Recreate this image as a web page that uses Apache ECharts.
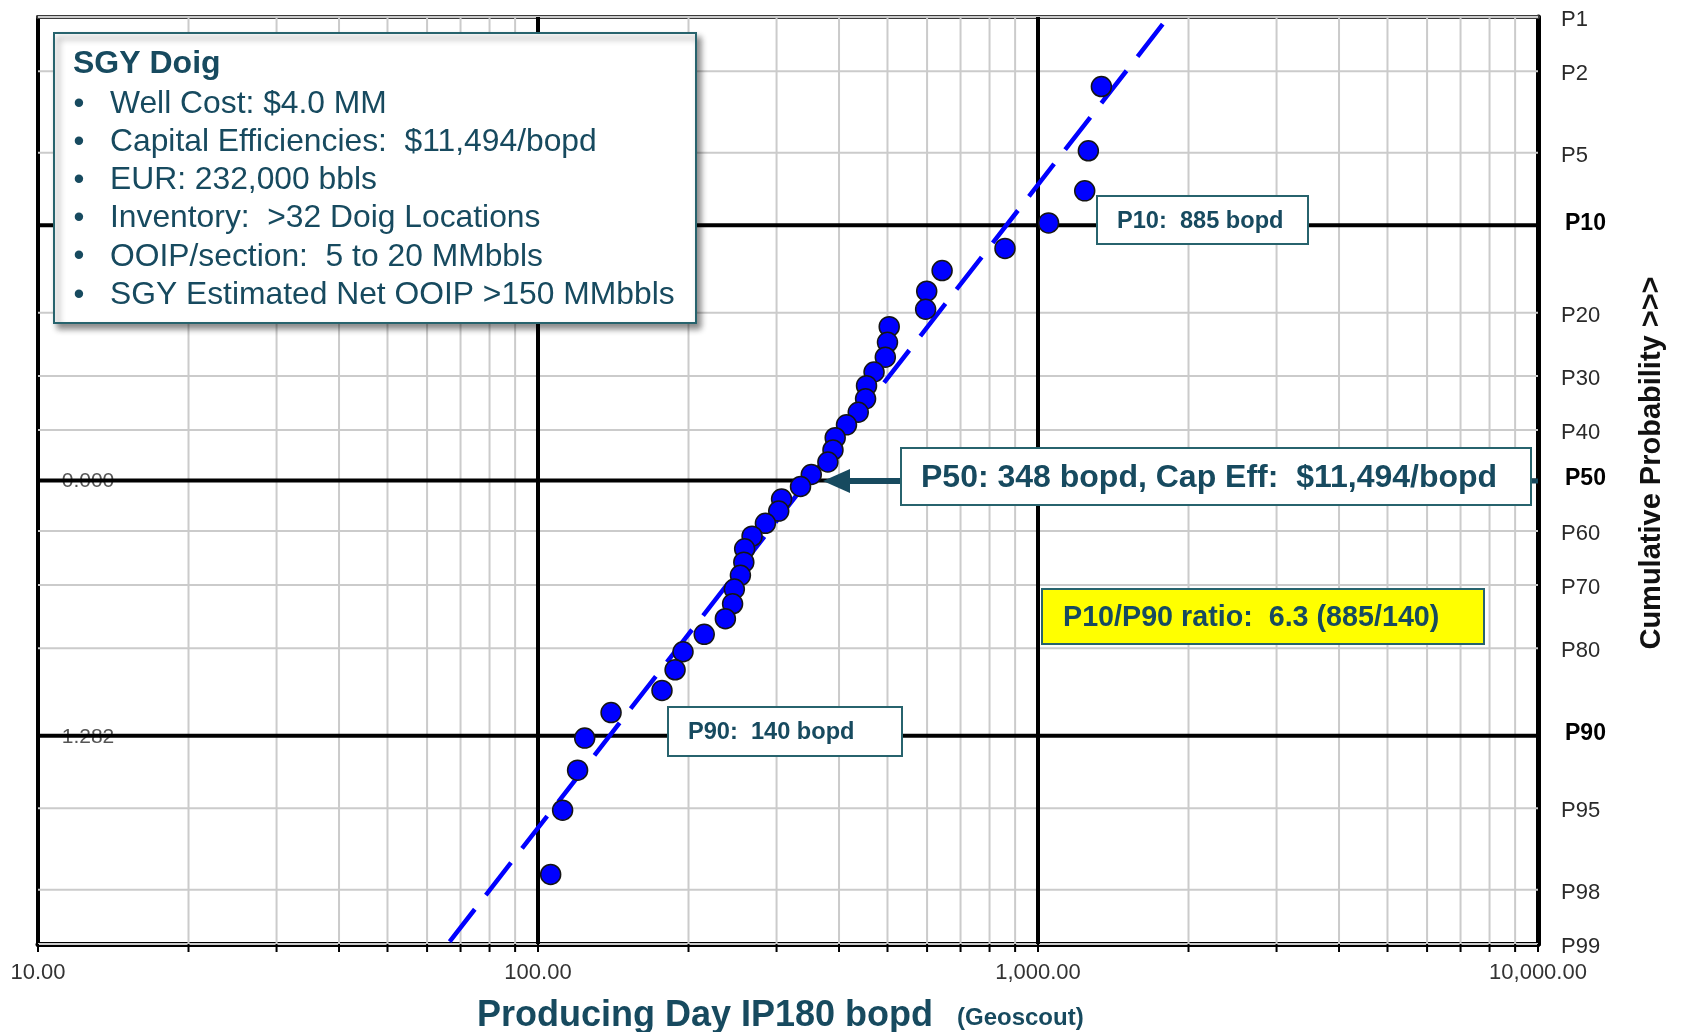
<!DOCTYPE html>
<html>
<head>
<meta charset="utf-8">
<title>SGY Doig IP180 probability plot</title>
<script src="https://cdn.jsdelivr.net/npm/echarts@6/dist/echarts.min.js"></script>
<style>
  html, body { margin: 0; padding: 0; background: #ffffff; }
  #chart { width: 1682px; height: 1032px; }
</style>
</head>
<body>
<div id="chart"></div>
<script>
// ---- data -------------------------------------------------------------
// IP180 producing-day rate of each Doig well (bopd), highest first
const ip180Rates = [1339, 1261, 1240, 1050, 859, 643, 599, 596, 504, 500,
                    495, 470, 454, 452, 437, 414, 393, 389, 380, 352,
                    335, 307, 303, 285, 268, 259, 258, 254, 247, 245,
                    237, 215, 195, 188, 177, 140, 124, 120, 112, 106];
// cumulative probability of each well (%), same order
const cumProb = [2.4, 4.9, 7.3, 9.8, 12.2, 14.6, 17.1, 19.5, 22.0, 24.4,
                 26.8, 29.3, 31.7, 34.1, 36.6, 39.0, 41.5, 43.9, 46.3, 48.8,
                 51.2, 53.7, 56.1, 58.5, 61.0, 63.4, 65.9, 68.3, 70.7, 73.2,
                 75.6, 78.0, 80.5, 82.9, 85.4, 87.8, 90.2, 92.7, 95.1, 97.6];
// ends of the lognormal fit line (rate in bopd, probability in %)
const fitRates = [1776, 66];
const fitProb = [1.1, 99];

// axis ticks
const rateTicks = [10, 100, 1000, 10000];
const minorRates = [20, 30, 40, 50, 60, 70, 80, 90,
                    200, 300, 400, 500, 600, 700, 800, 900,
                    2000, 3000, 4000, 5000, 6000, 7000, 8000, 9000];
const probTicks = [1, 2, 5, 10, 20, 30, 40, 50, 60, 70, 80, 90, 95, 98, 99];
const keyProbs = [10, 50, 90];

// annotation text
const boxTitle = 'SGY Doig';
const wellNotes = ['Well Cost: $4.0 MM',
                   'Capital Efficiencies:  $11,494/bopd',
                   'EUR: 232,000 bbls',
                   'Inventory:  >32 Doig Locations',
                   'OOIP/section:  5 to 20 MMbbls',
                   'SGY Estimated Net OOIP >150 MMbbls'];
const p10Text = 'P10:  885 bopd';
const p90Text = 'P90:  140 bopd';
const p50Text = 'P50: 348 bopd, Cap Eff:  $11,494/bopd';
const ratioText = 'P10/P90 ratio:  6.3 (885/140)';
const xTitle = 'Producing Day IP180 bopd';
const xSource = '(Geoscout)';
const yTitle = 'Cumulative Probability >>>';

// ---- probability scale: percent -> standard normal quantile --------------
function probit(p) {
  const a = [-3.969683028665376e+01, 2.209460984245205e+02, -2.759285104469687e+02,
             1.383577518672690e+02, -3.066479806614716e+01, 2.506628277459239e+00];
  const b = [-5.447609879822406e+01, 1.615858368580409e+02, -1.556989798598866e+02,
             6.680131188771972e+01, -1.328068155288572e+01];
  const c = [-7.784894002430293e-03, -3.223964580411365e-01, -2.400758277161838e+00,
             -2.549732539343734e+00, 4.374664141464968e+00, 2.938163982698783e+00];
  const d = [7.784695709041462e-03, 3.224671290700398e-01, 2.445134137142996e+00,
             3.754408661907416e+00];
  const pl = 0.02425, ph = 1 - pl;
  let q, r;
  if (p < pl) {
    q = Math.sqrt(-2 * Math.log(p));
    return (((((c[0]*q+c[1])*q+c[2])*q+c[3])*q+c[4])*q+c[5]) / ((((d[0]*q+d[1])*q+d[2])*q+d[3])*q+1);
  }
  if (p <= ph) {
    q = p - 0.5; r = q * q;
    return (((((a[0]*r+a[1])*r+a[2])*r+a[3])*r+a[4])*r+a[5])*q / (((((b[0]*r+b[1])*r+b[2])*r+b[3])*r+b[4])*r+1);
  }
  q = Math.sqrt(-2 * Math.log(1 - p));
  return -(((((c[0]*q+c[1])*q+c[2])*q+c[3])*q+c[4])*q+c[5]) / ((((d[0]*q+d[1])*q+d[2])*q+d[3])*q+1);
}
const zOf = pct => probit(pct / 100);
const zMin = zOf(probTicks[0]);
const zMax = zOf(probTicks[probTicks.length - 1]);
const xMin = rateTicks[0];
const xMax = rateTicks[rateTicks.length - 1];

// ---- styles -----------------------------------------------------------
const FONT = '"Liberation Sans", Arial, Helvetica, sans-serif';
const TEAL = '#174a5f';
const BOX_EDGE = '#27636d';
const GRID_GREY = '#cbcbcb';
const TOP_Z = 100;

const chart = echarts.init(document.getElementById('chart'), null, { renderer: 'canvas' });

// vertical grid lines at given rates
function vLines(values, color, width, z) {
  return {
    type: 'custom', coordinateSystem: 'cartesian2d', clip: false, silent: true, z: z,
    data: values.map(v => [v, 0]),
    renderItem: (params, api) => {
      const v = api.value(0);
      const p1 = api.coord([v, zMin]);
      const p2 = api.coord([v, zMax]);
      return { type: 'line', shape: { x1: p1[0], y1: p1[1], x2: p2[0], y2: p2[1] },
               style: { stroke: color, lineWidth: width } };
    }
  };
}
// horizontal grid lines at given probabilities, with the P labels on the right
function hLines(values, color, width, z, bold) {
  return {
    type: 'custom', coordinateSystem: 'cartesian2d', clip: false, silent: true, z: z,
    data: values.map(p => [xMin, zOf(p), p]),
    renderItem: (params, api) => {
      const zv = api.value(1);
      const pct = api.value(2);
      const p1 = api.coord([xMin, zv]);
      const p2 = api.coord([xMax, zv]);
      return {
        type: 'group',
        children: [
          { type: 'line', shape: { x1: p1[0], y1: p1[1], x2: p2[0], y2: p2[1] },
            style: { stroke: color, lineWidth: width } },
          { type: 'text', x: p2[0] + (bold ? 27 : 23), y: p2[1] + (bold ? -2 : 3),
            style: { text: 'P' + pct, fill: bold ? '#000' : '#2a2a2a',
                     font: (bold ? 'bold 23px ' : '22px ') + FONT,
                     textAlign: 'left', textVerticalAlign: 'middle' } }
        ]
      };
    }
  };
}

// lift every annotation element above the plot
function onTop(el) {
  el.z = TOP_Z;
  if (el.children) el.children.forEach(onTop);
  return el;
}

const annotations = [
  // summary box
  {
    type: 'group',
    children: [
      { type: 'rect', shape: { x: 54, y: 33, width: 642, height: 290 },
        style: { fill: '#ffffff', stroke: BOX_EDGE, lineWidth: 2,
                 shadowBlur: 6, shadowOffsetX: 4, shadowOffsetY: 5, shadowColor: 'rgba(0,0,0,0.45)' } },
      { type: 'text', x: 73, y: 64,
        style: { text: boxTitle, fill: TEAL, font: 'bold 32px ' + FONT, textVerticalAlign: 'middle' } }
    ].concat(wellNotes.map((t, i) => ({
      type: 'text', x: 110, y: 104 + i * 38.2,
      style: { text: t, fill: TEAL, font: '31.8px ' + FONT, textVerticalAlign: 'middle' }
    }))).concat(wellNotes.map((t, i) => ({
      type: 'text', x: 79, y: 104 + i * 38.2,
      style: { text: '\u2022', fill: TEAL, font: '31px ' + FONT, textAlign: 'center', textVerticalAlign: 'middle' }
    })))
  },
  // P10 call-out
  {
    type: 'group',
    children: [
      { type: 'rect', shape: { x: 1097, y: 196, width: 211, height: 48 },
        style: { fill: '#ffffff', stroke: BOX_EDGE, lineWidth: 2 } },
      { type: 'text', x: 1117, y: 221,
        style: { text: p10Text, fill: TEAL, font: 'bold 23.6px ' + FONT, textVerticalAlign: 'middle' } }
    ]
  },
  // P90 call-out
  {
    type: 'group',
    children: [
      { type: 'rect', shape: { x: 668, y: 707, width: 234, height: 49 },
        style: { fill: '#ffffff', stroke: BOX_EDGE, lineWidth: 2 } },
      { type: 'text', x: 688, y: 732,
        style: { text: p90Text, fill: TEAL, font: 'bold 23.6px ' + FONT, textVerticalAlign: 'middle' } }
    ]
  },
  // P50 call-out with arrow
  {
    type: 'group',
    children: [
      { type: 'line', shape: { x1: 846, y1: 481, x2: 902, y2: 481 },
        style: { stroke: TEAL, lineWidth: 6 } },
      { type: 'polygon', shape: { points: [[823, 481], [850, 469], [850, 493]] },
        style: { fill: TEAL } },
      { type: 'line', shape: { x1: 1530, y1: 481, x2: 1538, y2: 481 },
        style: { stroke: TEAL, lineWidth: 5 } },
      { type: 'rect', shape: { x: 901, y: 448, width: 630, height: 57 },
        style: { fill: '#ffffff', stroke: BOX_EDGE, lineWidth: 2 } },
      { type: 'text', x: 921, y: 478,
        style: { text: p50Text, fill: TEAL, font: 'bold 32px ' + FONT, textVerticalAlign: 'middle' } }
    ]
  },
  // P10/P90 ratio
  {
    type: 'group',
    children: [
      { type: 'rect', shape: { x: 1042, y: 589, width: 442, height: 55 },
        style: { fill: '#ffff00', stroke: BOX_EDGE, lineWidth: 2 } },
      { type: 'text', x: 1063, y: 618,
        style: { text: ratioText, fill: TEAL, font: 'bold 28.7px ' + FONT, textVerticalAlign: 'middle' } }
    ]
  },
  // axis titles
  { type: 'text', x: 477, y: 1016,
    style: { text: xTitle, fill: TEAL, font: 'bold 36px ' + FONT, textVerticalAlign: 'middle' } },
  { type: 'text', x: 957, y: 1018,
    style: { text: xSource, fill: TEAL, font: 'bold 24px ' + FONT, textVerticalAlign: 'middle' } },
  { type: 'text', x: 1652, y: 463, rotation: Math.PI / 2,
    style: { text: yTitle, fill: '#111', font: 'bold 29px ' + FONT,
             textAlign: 'center', textVerticalAlign: 'middle' } }
].map(onTop);

const option = {
  animation: false,
  backgroundColor: '#ffffff',
  grid: { left: 38, right: 144, top: 17, bottom: 88, containLabel: false },
  xAxis: [
    {
      type: 'log', logBase: 10, min: xMin, max: xMax, position: 'bottom',
      axisLine: { show: true, onZero: false, lineStyle: { color: '#000', width: 5 } },
      axisTick: { show: false },
      splitLine: { show: false },
      axisLabel: {
        fontFamily: FONT, fontSize: 22, color: '#333', margin: 18,
        formatter: v => Math.round(v).toLocaleString('en-US', { minimumFractionDigits: 2, maximumFractionDigits: 2 })
      }
    },
    {
      type: 'log', logBase: 10, min: xMin, max: xMax, position: 'top',
      axisLine: { show: true, onZero: false, lineStyle: { color: '#3c3c3c', width: 4 } },
      axisTick: { show: false }, axisLabel: { show: false }, splitLine: { show: false }
    }
  ],
  yAxis: [
    {
      type: 'value', min: zMin, max: zMax, inverse: true, position: 'left',
      axisLine: { show: true, onZero: false, lineStyle: { color: '#000', width: 4 } },
      axisTick: { show: false }, axisLabel: { show: false }, splitLine: { show: false }
    },
    {
      type: 'value', min: zMin, max: zMax, inverse: true, position: 'right',
      axisLine: { show: true, onZero: false, lineStyle: { color: '#000', width: 5 } },
      axisTick: { show: false }, axisLabel: { show: false }, splitLine: { show: false }
    }
  ],
  series: [
    // minor grid
    vLines(minorRates, GRID_GREY, 2, 1),
    hLines(probTicks.filter(p => keyProbs.indexOf(p) < 0), GRID_GREY, 2, 1, false),
    // z-score labels on the key probability lines
    {
      type: 'custom', coordinateSystem: 'cartesian2d', clip: false, silent: true, z: 2,
      data: keyProbs.map(p => [xMin, zOf(p)]),
      renderItem: (params, api) => {
        const zv = api.value(1);
        const pt = api.coord([xMin, zv]);
        const txt = (Math.abs(zv) < 5e-4 ? 0 : zv).toFixed(3);
        return { type: 'text', x: pt[0] + 50, y: pt[1] + 1,
                 style: { text: txt, fill: '#555', font: '21px ' + FONT,
                          textAlign: 'center', textVerticalAlign: 'middle' } };
      }
    },
    // major grid
    vLines(rateTicks.slice(1, -1), '#000', 4, 3),
    hLines(keyProbs, '#000', 4, 3, true),
    // tick marks under the rate axis
    {
      type: 'custom', coordinateSystem: 'cartesian2d', clip: false, silent: true, z: 3,
      data: rateTicks.concat(minorRates).map(v => [v, zMax]),
      renderItem: (params, api) => {
        const pt = api.coord([api.value(0), zMax]);
        return { type: 'line', shape: { x1: pt[0], y1: pt[1], x2: pt[0], y2: pt[1] + 8 },
                 style: { stroke: '#000', lineWidth: 2 } };
      }
    },
    // lognormal fit
    {
      type: 'line', xAxisIndex: 0, yAxisIndex: 0, z: 4, silent: true,
      data: fitRates.map((v, i) => [v, zOf(fitProb[i])]),
      symbol: 'none',
      lineStyle: { color: '#0000ff', width: 4.5, type: [41, 18], cap: 'butt' }
    },
    // wells
    {
      type: 'scatter', xAxisIndex: 0, yAxisIndex: 0, z: 5,
      data: ip180Rates.map((v, i) => [v, zOf(cumProb[i])]),
      symbol: 'circle', symbolSize: 20,
      itemStyle: { color: '#0000ff', borderColor: '#151515', borderWidth: 1.5, opacity: 1 }
    }
  ],
  graphic: { z: TOP_Z, elements: annotations }
};

chart.setOption(option);
</script>
</body>
</html>
